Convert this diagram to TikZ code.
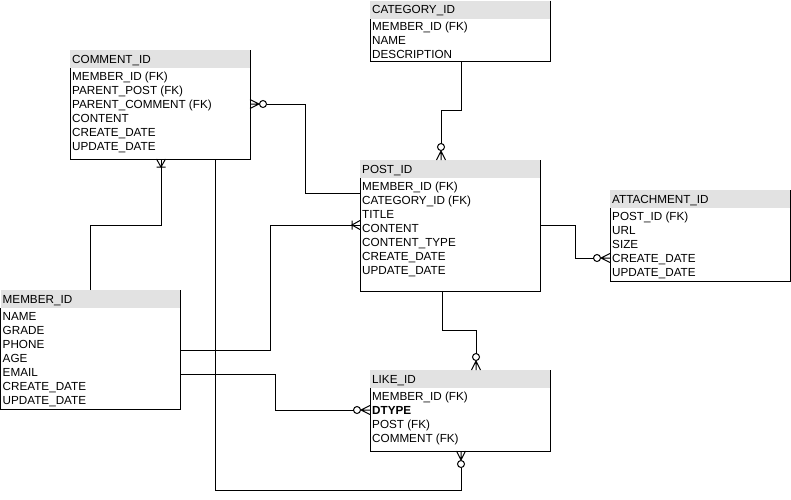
\documentclass[tikz,border=0pt]{standalone}
\usepackage{fontspec}
\setmainfont{Liberation Sans}
\usepackage{tikz}

\definecolor{headgray}{RGB}{226,226,226}

% zero or many
\pgfdeclarearrow{
  name = zmany,
  setup code = {
    \pgfarrowssettipend{0pt}
    \pgfarrowssetlineend{-16.5pt}
    \pgfarrowssetvisualbackend{-16.5pt}
    \pgfarrowssetbackend{-16.5pt}
    \pgfarrowshullpoint{0pt}{4.5pt}
    \pgfarrowshullpoint{0pt}{-4.5pt}
    \pgfarrowshullpoint{-16.5pt}{3.5pt}
    \pgfarrowshullpoint{-16.5pt}{-3.5pt}
  },
  drawing code = {
    \pgfsetdash{}{0pt}
    \pgfpathmoveto{\pgfqpoint{0pt}{4.5pt}}
    \pgfpathlineto{\pgfqpoint{-9pt}{0pt}}
    \pgfpathlineto{\pgfqpoint{0pt}{-4.5pt}}
    \pgfpathmoveto{\pgfqpoint{-9.5pt}{0pt}}
    \pgfpathlineto{\pgfqpoint{0pt}{0pt}}
    \pgfpathcircle{\pgfqpoint{-13pt}{0pt}}{3.5pt}
    \pgfusepathqstroke
  }
}

% one or many
\pgfdeclarearrow{
  name = omany,
  setup code = {
    \pgfarrowssettipend{0pt}
    \pgfarrowssetlineend{0pt}
    \pgfarrowssetvisualbackend{-8pt}
    \pgfarrowssetbackend{-8pt}
    \pgfarrowshullpoint{0pt}{4.5pt}
    \pgfarrowshullpoint{0pt}{-4.5pt}
    \pgfarrowshullpoint{-8pt}{4.5pt}
    \pgfarrowshullpoint{-8pt}{-4.5pt}
  },
  drawing code = {
    \pgfsetdash{}{0pt}
    \pgfpathmoveto{\pgfqpoint{0pt}{4.5pt}}
    \pgfpathlineto{\pgfqpoint{-8pt}{0pt}}
    \pgfpathlineto{\pgfqpoint{0pt}{-4.5pt}}
    \pgfpathmoveto{\pgfqpoint{-8pt}{4.5pt}}
    \pgfpathlineto{\pgfqpoint{-8pt}{-4.5pt}}
    \pgfusepathqstroke
  }
}

\tikzset{
  entity/.style={rectangle, minimum width=180, inner sep=0, outer sep=0,
    anchor=north west,
    path picture={\fill[headgray] (path picture bounding box.north west)
      rectangle ([yshift=-18]path picture bounding box.north east);}},
  enttitle/.style={anchor=west, inner xsep=2, inner ysep=0,
    text height=8.4, text depth=0, font=\fontsize{11.7}{14}\selectfont},
  entrows/.style={anchor=north west, inner xsep=2, inner ysep=0, align=left,
    font=\fontsize{11.7}{14}\selectfont},
  erline/.style={draw, line width=1pt},
}

% name, position, height, title, rows
\newcommand{\erentity}[5]{%
  \node[entity, minimum height=#3] (#1) at (#2) {};
  \node[enttitle] (#1-title) at ([yshift=-9]#1.north west) {#4};
  \node[entrows] (#1-rows) at ([yshift=-20.8]#1.north west) {\rule{0pt}{9pt}#5};
  \draw[erline] (#1.north east) |- (#1.south west) -- ([yshift=-18]#1.north west);
}

\begin{document}
\begin{tikzpicture}[x=1pt,y=-1pt]
  \useasboundingbox (0,0) rectangle (791,499);

  \erentity{category}{370,0.5}{60.5}{CATEGORY\_ID}{MEMBER\_ID (FK)\\NAME\\DESCRIPTION}
  \erentity{comment}{70,50}{109}{COMMENT\_ID}{MEMBER\_ID (FK)\\PARENT\_POST (FK)\\PARENT\_COMMENT (FK)\\CONTENT\\CREATE\_DATE\\UPDATE\_DATE}
  \erentity{post}{360,160}{131}{POST\_ID}{MEMBER\_ID (FK)\\CATEGORY\_ID (FK)\\TITLE\\CONTENT\\CONTENT\_TYPE\\CREATE\_DATE\\UPDATE\_DATE}
  \erentity{attach}{610,190}{91}{ATTACHMENT\_ID}{POST\_ID (FK)\\URL\\SIZE\\CREATE\_DATE\\UPDATE\_DATE}
  \erentity{member}{0.5,290}{119}{MEMBER\_ID}{NAME\\GRADE\\PHONE\\AGE\\EMAIL\\CREATE\_DATE\\UPDATE\_DATE}
  \erentity{like}{370,370}{81}{LIKE\_ID}{MEMBER\_ID (FK)\\\textbf{DTYPE}\\POST (FK)\\COMMENT (FK)}

  % relations
  \draw[erline,-zmany] (post.west |- 0,193) -| (305,104) -- (comment.east |- 0,104);
  \draw[erline,-zmany] (category.south -| 461,0) |- (441,110) -- (post.north -| 441,0);
  \draw[erline,-omany] (member.east |- 0,350) -| (270,225) -- (post.west |- 0,225);
  \draw[erline,-omany] (member.north -| 90,0) |- (161,225) -- (comment.south -| 161,0);
  \draw[erline,-zmany] (post.south -| 442,0) |- (476,330) -- (like.north -| 476,0);
  \draw[erline,-zmany] (post.east |- 0,225) -| (575,258) -- (attach.west |- 0,258);
  \draw[erline,-zmany] (member.east |- 0,374) -| (275,410) -- (like.west |- 0,410);
  \draw[erline,-zmany] (comment.south -| 215,0) |- (461,490) -- (like.south -| 461,0);
\end{tikzpicture}
\end{document}
